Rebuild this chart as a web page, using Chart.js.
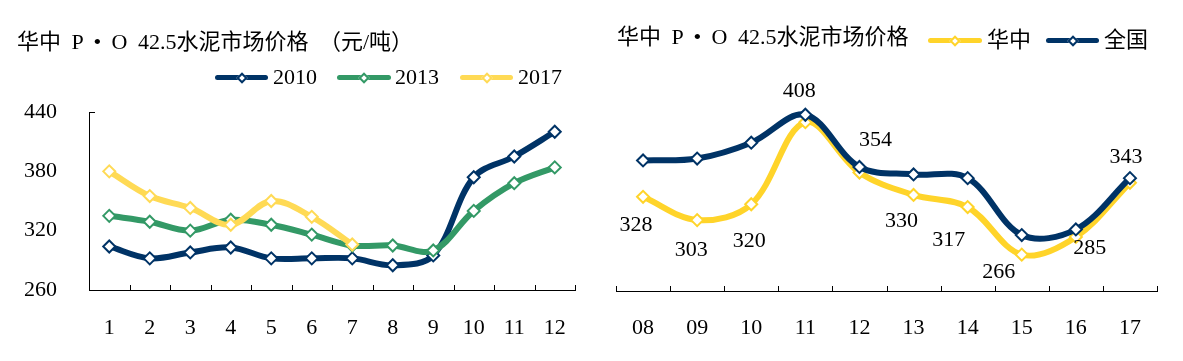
<!DOCTYPE html>
<html><head><meta charset="utf-8">
<script src="https://cdn.jsdelivr.net/npm/chart.js@4.4.1/dist/chart.umd.min.js"></script>
<style>
html,body{margin:0;padding:0;background:#fff;width:1183px;height:361px;overflow:hidden;position:relative;}
.t{position:absolute;font-family:"Liberation Serif","Noto Sans CJK SC",serif;font-size:22px;color:#000;white-space:nowrap;line-height:24px;height:24px;}
.w{word-spacing:5px;}
.lg{position:absolute;height:5px;border-radius:3px;}
.dm{position:absolute;left:50%;top:50%;width:8px;height:8px;background:#fff;border:2px solid;box-sizing:border-box;transform:translate(-50%,-50%) rotate(45deg);}
#c1{position:absolute;left:0;top:0;}
#c2{position:absolute;left:600px;top:0;}
</style></head><body>
<canvas id="c1" width="590" height="361"></canvas>
<canvas id="c2" width="583" height="361"></canvas>

<div class="t w" style="left:17px;top:30px">华中 P • O 42.5水泥市场价格 （元/吨）</div>
<div class="lg" style="left:215px;top:75px;width:53px;background:#003366"><div class="dm" style="border-color:#003366"></div></div>
<div class="t" style="left:273px;top:65px">2010</div>
<div class="lg" style="left:337px;top:75px;width:54px;background:#339966"><div class="dm" style="border-color:#339966"></div></div>
<div class="t" style="left:395px;top:65px">2013</div>
<div class="lg" style="left:460px;top:75px;width:53px;background:#FFDA55"><div class="dm" style="border-color:#FFDA55"></div></div>
<div class="t" style="left:518px;top:65px">2017</div>

<div class="t w" style="left:617px;top:25px">华中 P • O 42.5水泥市场价格</div>
<div class="lg" style="left:928px;top:38px;width:54px;background:#FFD42A"><div class="dm" style="border-color:#FFD42A"></div></div>
<div class="t" style="left:987px;top:28px">华中</div>
<div class="lg" style="left:1046px;top:38px;width:53px;background:#003366"><div class="dm" style="border-color:#003366"></div></div>
<div class="t" style="left:1104px;top:28px">全国</div>

<script>
// ---- data: left chart ----
const monthLabels = ['1','2','3','4','5','6','7','8','9','10','11','12'];
const price2010 = [304, 292, 298, 303, 292, 292, 292, 285, 295, 374, 395, 420];
const price2013 = [335, 329, 320, 331, 326, 316, 305, 305, 300, 340, 368, 384];
const price2017 = [380, 355, 343, 326, 350, 334, 306];
const leftYTicks = [260, 320, 380, 440];

// ---- data: right chart ----
const yearLabels = ['08','09','10','11','12','13','14','15','16','17'];
const centralChina = [328, 303, 320, 408, 354, 330, 317, 266, 285, 343];
const nationwide = [367, 369, 386, 416, 360, 352, 348, 287, 293, 348];

const FONT = {family: '"Liberation Serif", "Noto Sans CJK SC", serif', size: 22};
const NAVY = '#003366', GREEN = '#339966', YEL1 = '#FFDA55', YEL2 = '#FFD42A';

function ds(label, data, color, order) {
  return {
    label, data, order,
    borderColor: color, backgroundColor: color,
    borderWidth: 6, tension: 0.35, borderCapStyle: 'round', borderJoinStyle: 'round',
    pointStyle: 'rectRot', pointRadius: 6, pointBorderWidth: 2,
    pointBackgroundColor: '#fff', pointBorderColor: color,
    clip: false, fill: false
  };
}

const axisTicks = {
  id: 'axisTicks',
  afterDraw(chart, args, opts) {
    const xs = chart.scales.x, ctx = chart.ctx, n = chart.data.labels.length;
    ctx.save();
    ctx.strokeStyle = '#000'; ctx.lineWidth = 1;
    ctx.beginPath();
    for (let i = 0; i <= n; i++) {
      const px = Math.round(xs.getPixelForValue(i - 0.5)) + 0.5;
      ctx.moveTo(px, xs.top + 0.5);
      ctx.lineTo(px, xs.top - 5);
    }
    if (opts.yTop) {
      const ys = chart.scales.y;
      const py = Math.round(ys.top) + 0.5;
      ctx.moveTo(ys.right, py);
      ctx.lineTo(ys.right + 6, py);
    }
    ctx.stroke();
    ctx.restore();
  }
};

const labelOffsets = [[-7,28],[-6,30],[-2,37],[-6,-31],[16,-32],[-12,26],[-19,33],[-23,18],[14,11],[-4,-26]];
const valueLabels = {
  id: 'valueLabels',
  afterDraw(chart) {
    const meta = chart.getDatasetMeta(0);
    const ctx = chart.ctx;
    const data = chart.data.datasets[0].data;
    ctx.save();
    ctx.fillStyle = '#000';
    ctx.font = '22px "Liberation Serif", serif';
    ctx.textAlign = 'center';
    ctx.textBaseline = 'middle';
    meta.data.forEach((pt, i) => {
      const o = labelOffsets[i] || [0, 0];
      ctx.fillText(String(data[i]), pt.x + o[0], pt.y + o[1]);
    });
    ctx.restore();
  }
};

new Chart(document.getElementById('c1'), {
  type: 'line',
  data: {
    labels: monthLabels,
    datasets: [
      ds('2010', price2010, NAVY, 3),
      ds('2013', price2013, GREEN, 2),
      ds('2017', price2017, YEL1, 1)
    ]
  },
  options: {
    responsive: false, animation: false, devicePixelRatio: 1,
    layout: {padding: {top: 112, right: 15, left: 0, bottom: 0}},
    plugins: {legend: {display: false}, tooltip: {enabled: false}, axisTicks: {yTop: true}},
    scales: {
      x: {
        offset: true,
        grid: {display: false},
        border: {display: true, color: '#000', width: 1},
        ticks: {color: '#000', font: FONT, padding: 17, maxRotation: 0, autoSkip: false},
        afterFit: s => { s.height = 71; }
      },
      y: {
        min: 260, max: 440,
        grid: {display: false},
        border: {display: true, color: '#000', width: 1},
        ticks: {color: '#000', font: FONT, padding: 24},
        afterBuildTicks: s => { s.ticks = leftYTicks.map(v => ({value: v})); },
        afterFit: s => { s.width = 89; }
      }
    }
  },
  plugins: [axisTicks]
});

new Chart(document.getElementById('c2'), {
  type: 'line',
  data: {
    labels: yearLabels,
    datasets: [
      ds('华中', centralChina, YEL2, 2),
      ds('全国', nationwide, NAVY, 1)
    ]
  },
  options: {
    responsive: false, animation: false, devicePixelRatio: 1,
    layout: {padding: {top: 111, right: 26, left: 16, bottom: 0}},
    plugins: {legend: {display: false}, tooltip: {enabled: false}, axisTicks: {yTop: false}},
    scales: {
      x: {
        offset: true,
        grid: {display: false},
        border: {display: true, color: '#000', width: 1},
        ticks: {color: '#000', font: FONT, padding: 16, maxRotation: 0, autoSkip: false},
        afterFit: s => { s.height = 70; }
      },
      y: {
        display: false,
        min: 227, max: 420
      }
    }
  },
  plugins: [axisTicks, valueLabels]
});
</script>
</body></html>
